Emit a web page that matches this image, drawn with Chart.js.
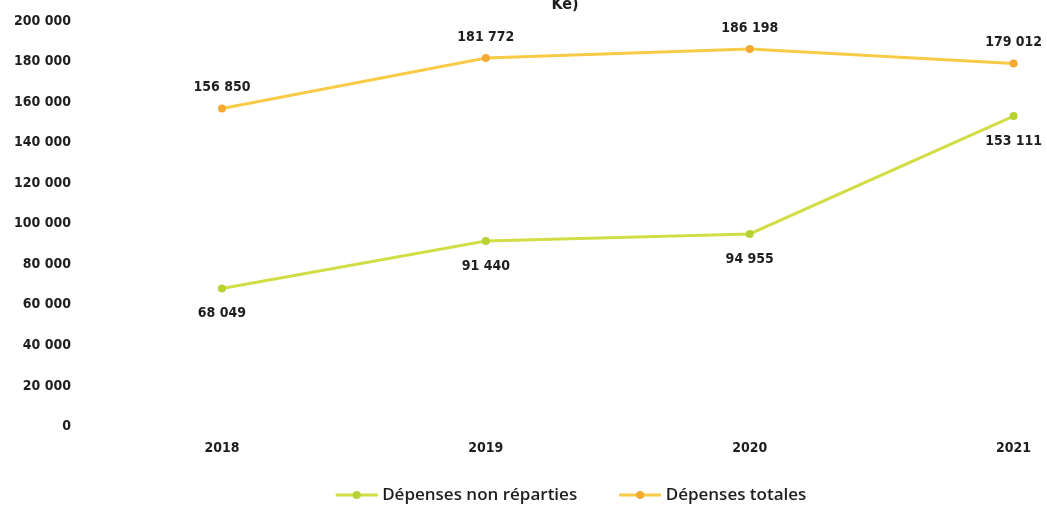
<!DOCTYPE html>
<html lang="fr">
<head>
    <meta charset="UTF-8">
    <title>Dépenses</title>
    <script src="https://cdn.jsdelivr.net/npm/chart.js"></script>
    <style>
        body { margin: 0; background: #fff; }
        #wrap { width: 1047px; height: 510px; position: relative; }
    </style>
</head>
<body>
    <div id="wrap"><canvas id="chart"></canvas></div>

    <script>
        // Data
        const years = ['2018', '2019', '2020', '2021'];
        const nonReparties = [68049, 91440, 94955, 153111];
        const totales = [156850, 181772, 186198, 179012];
        const seriesNames = ['Dépenses non réparties', 'Dépenses totales'];
        const lineColors = ['#D2DC45', '#F7CB45'];
        const dotColors = ['#B8D232', '#F5A832'];

        const fmt = v => String(v).replace(/\B(?=(\d{3})+(?!\d))/g, ' ');

        // legend swatch: short line with a dot in the middle
        const BOX = 50;
        function swatch(lineColor, dotColor) {
            const c = document.createElement('canvas');
            c.width = BOX + 8; c.height = 10;
            const g = c.getContext('2d');
            const x0 = c.width - 42;
            g.strokeStyle = lineColor; g.lineWidth = 3;
            g.beginPath(); g.moveTo(x0, 5); g.lineTo(c.width, 5); g.stroke();
            g.fillStyle = dotColor;
            g.beginPath(); g.arc(x0 + 21, 5, 4, 0, Math.PI * 2); g.fill();
            return c;
        }

        // value labels above (totales) / below (non réparties) the points
        const valueLabels = {
            id: 'valueLabels',
            afterDatasetsDraw(chart) {
                const ctx = chart.ctx;
                ctx.save();
                ctx.font = 'bold 14px "DejaVu Sans Condensed", "DejaVu Sans", sans-serif';
                ctx.fillStyle = '#1e1e1e';
                ctx.textAlign = 'center';
                ctx.textBaseline = 'middle';
                chart.data.datasets.forEach((ds, i) => {
                    const meta = chart.getDatasetMeta(i);
                    meta.data.forEach((pt, j) => {
                        const dy = i === 0 ? 25 : -21;
                        ctx.fillText(fmt(ds.data[j].y), pt.x, pt.y + dy);
                    });
                });
                ctx.restore();
            }
        };

        const makeSet = (i, values) => ({
            label: seriesNames[i],
            data: values.map((v, k) => ({ x: k, y: v })),
            borderColor: lineColors[i],
            backgroundColor: dotColors[i],
            pointBackgroundColor: dotColors[i],
            pointBorderWidth: 0,
            pointRadius: 4,
            pointStyle: 'circle',
            borderWidth: 3,
            tension: 0
        });

        const ctx = document.getElementById('chart').getContext('2d');
        new Chart(ctx, {
            type: 'line',
            data: {
                datasets: [makeSet(0, nonReparties), makeSet(1, totales)]
            },
            options: {
                responsive: true,
                maintainAspectRatio: false,
                animation: false,
                layout: { padding: { left: 0, right: 7, top: 0, bottom: 0 } },
                plugins: {
                    title: {
                        display: true,
                        fullSize: false,
                        text: 'Ke)',
                        color: '#1e1e1e',
                        font: { family: '"DejaVu Sans Condensed", "DejaVu Sans", sans-serif', size: 16, weight: 'bold', lineHeight: 0.6 },
                        padding: { top: 0, bottom: 11.4 }
                    },
                    legend: {
                        position: 'bottom',
                        fullSize: false,
                        maxHeight: 53.5,
                        labels: {
                            usePointStyle: true,
                            pointStyleWidth: BOX,
                            color: '#1e1e1e',
                            padding: 30,
                            font: { family: '"Open Sans", sans-serif', size: 17, weight: '600' },
                            generateLabels(chart) {
                                return chart.data.datasets.map((ds, i) => ({
                                    text: ds.label,
                                    pointStyle: swatch(lineColors[i], dotColors[i]),
                                    fontColor: '#1e1e1e',
                                    lineWidth: 0,
                                    hidden: false,
                                    datasetIndex: i
                                }));
                            }
                        }
                    },
                    tooltip: { enabled: false }
                },
                scales: {
                    x: {
                        type: 'linear',
                        min: -0.5,
                        max: 3.1,
                        grid: { display: false },
                        border: { display: false },
                        afterBuildTicks(scale) {
                            scale.ticks = years.map((y, i) => ({ value: i }));
                        },
                        afterFit(scale) { scale.height = 30; },
                        ticks: {
                            padding: 5,
                            color: '#1e1e1e',
                            maxRotation: 0,
                            font: { family: '"DejaVu Sans Condensed", "DejaVu Sans", sans-serif', size: 14, weight: 'bold' },
                            callback: v => years[v]
                        }
                    },
                    y: {
                        min: 0,
                        max: 200000,
                        grid: { display: false },
                        border: { display: false },
                        afterFit(scale) {
                            scale.width = 90;
                            scale.paddingTop = 0;
                            scale.paddingBottom = 0;
                        },
                        ticks: {
                            stepSize: 20000,
                            padding: 11,
                            color: '#1e1e1e',
                            font: { family: '"DejaVu Sans Condensed", "DejaVu Sans", sans-serif', size: 14, weight: 'bold' },
                            callback: v => fmt(v)
                        }
                    }
                }
            },
            plugins: [valueLabels]
        });
    </script>
</body>
</html>
